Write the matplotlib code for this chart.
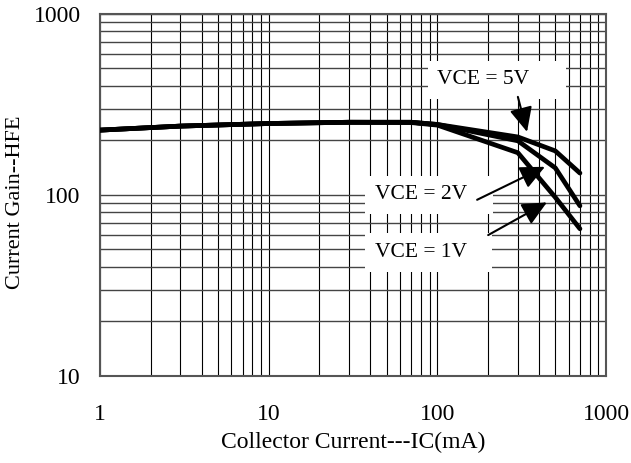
import numpy as np
import matplotlib.pyplot as plt
from matplotlib.ticker import FixedLocator, NullFormatter

plt.rcParams['font.family'] = ['Liberation Serif', 'DejaVu Serif']

'''Data read off the datasheet curve'''
ic = [1, 3, 10, 30, 70, 100, 300, 500, 700]  # mA
hfe_5v = [228, 240, 248, 252, 252, 245, 209, 175, 132]
hfe_2v = [228, 240, 248, 252, 252, 245, 199, 141, 87]
hfe_1v = [228, 240, 248, 252, 251, 243, 171, 97, 65]

labels = ['VCE = 5V', 'VCE = 2V', 'VCE = 1V']
label_xy = [(100, 432), (42.7, 100), (42.7, 48)]
label_gap = [5, 3, 3]  # trailing blank space inside the white boxes
arrow_start = [(300, 348), (172, 94), (200, 60)]
arrow_tip = [(340, 223), (434, 143), (446, 91)]

xticks = [1, 10, 100, 1000]
yticks = [10, 100, 1000]

fig = plt.figure(figsize=(6.31, 4.63), dpi=100)
ax = fig.add_axes([0.1585, 0.188, 0.802, 0.782])

ax.set_xscale('log')
ax.set_yscale('log')
ax.set_xlim(1, 1000)
ax.set_ylim(10, 1000)

'''Grid'''
minor_x = [m * 10**d for d in range(0, 3) for m in range(2, 10)]
minor_y = [m * 10**d for d in range(1, 3) for m in range(2, 10)]
ax.xaxis.set_major_locator(FixedLocator(xticks))
ax.yaxis.set_major_locator(FixedLocator(yticks))
ax.xaxis.set_minor_locator(FixedLocator(minor_x))
ax.yaxis.set_minor_locator(FixedLocator(minor_y))
ax.xaxis.set_minor_formatter(NullFormatter())
ax.yaxis.set_minor_formatter(NullFormatter())
ax.set_xticklabels([str(t) for t in xticks])
ax.set_yticklabels([str(t) for t in yticks])
ax.grid(True, which='both', axis='x', color='black', lw=0.8)
ax.grid(True, which='both', axis='y', color='#444444', lw=1.0)
ax.tick_params(which='both', length=0, labelsize=17)
ax.tick_params(axis='x', pad=20)
ax.tick_params(axis='y', pad=14)
for s in ax.spines.values():
    s.set_color('#555555')
    s.set_linewidth(1.5)

'''Curves'''
for h in (hfe_5v, hfe_2v, hfe_1v):
    ax.plot(ic, h, color='black', lw=3.4, solid_capstyle='round', zorder=3)

'''Labels and arrows'''
for lab, xy, gap, st, tip in zip(labels, label_xy, label_gap, arrow_start, arrow_tip):
    ax.text(xy[0], xy[1], lab + ' ' * gap, fontsize=15.5, ha='left', va='center',
            zorder=4, bbox=dict(boxstyle='square,pad=0.45', fc='white', ec='none'))
    ax.annotate('', xy=tip, xytext=st, zorder=5,
                arrowprops=dict(arrowstyle='-|>,head_length=0.75,head_width=0.35',
                                mutation_scale=20, color='black', lw=1.5,
                                shrinkA=0, shrinkB=0))

ax.set_xlabel('Collector Current---IC(mA)', fontsize=17, labelpad=5)
ax.set_ylabel('Current Gain--HFE', fontsize=16)
ax.yaxis.set_label_coords(-0.148, 0.48)

fig.savefig('out.png', dpi=100)
